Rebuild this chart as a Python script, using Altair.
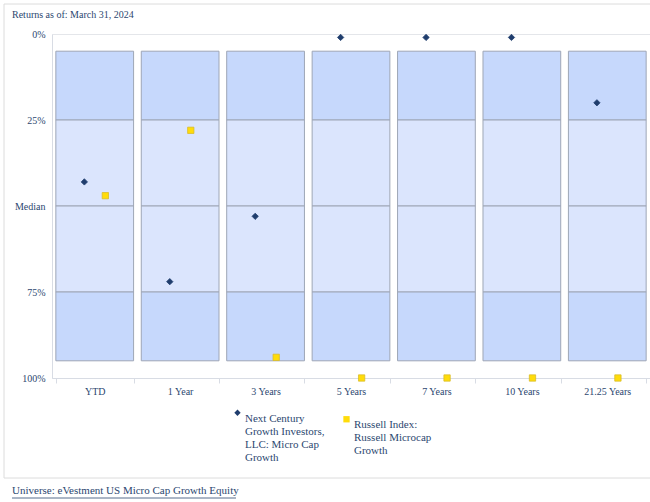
import altair as alt
import pandas as pd

categories = ["YTD", "1 Year", "3 Years", "5 Years", "7 Years", "10 Years", "21.25 Years"]
series_names = [
    "Next Century Growth Investors, LLC: Micro Cap Growth",
    "Russell Index: Russell Microcap Growth",
]
legend_lines = [
    ["Next Century", "Growth Investors,", "LLC: Micro Cap", "Growth"],
    ["Russell Index:", "Russell Microcap", "Growth"],
]
next_century_rank = [43, 72, 53, 1, 1, 1, 20]
russell_rank = [47, 28, 94, 100, 100, 100, 100]
band_edges = [5, 25, 50, 75, 95]
band_zones = ["outer", "inner", "inner", "outer"]
y_tick_values = [0, 25, 50, 75, 100]
y_tick_labels = ["0%", "25%", "Median", "75%", "100%"]
title_text = "Returns as of: March 31, 2024"
footer_text = "Universe: eVestment US Micro Cap Growth Equity"

NAVY = "#2c4770"
FONT = "Liberation Serif"

bar_rows = []
for c in categories:
    for i, z in enumerate(band_zones):
        bar_rows.append({"category": c, "lo": band_edges[i], "hi": band_edges[i + 1], "zone": z})
bars_df = pd.DataFrame(bar_rows)

pt_rows = []
for c, a, b in zip(categories, next_century_rank, russell_rank):
    pt_rows.append({"category": c, "series": series_names[0], "rank": a})
    pt_rows.append({"category": c, "series": series_names[1], "rank": b})
pts_df = pd.DataFrame(pt_rows)

y_expr = " : ".join(
    [f"datum.value == {v} ? '{l}'" for v, l in zip(y_tick_values, y_tick_labels)]
) + " : ''"
leg_expr = "datum.label == '%s' ? %s : %s" % (
    series_names[0],
    str(legend_lines[0]),
    str(legend_lines[1]),
)

xenc = alt.X(
    "category:N",
    sort=categories,
    title=None,
    scale=alt.Scale(paddingInner=0.09, paddingOuter=0.045),
    axis=alt.Axis(
        labelAngle=0,
        tickBand="extent",
        tickSize=5,
        tickColor="#d8dce4",
        domainColor="#d8dce4",
        labelFont=FONT,
        labelFontSize=10,
        labelColor=NAVY,
        labelPadding=3,
        grid=False,
    ),
)
yscale = alt.Scale(domain=[0, 100], reverse=True, nice=False, zero=False)
yaxis = alt.Axis(
    values=y_tick_values,
    labelExpr=y_expr,
    ticks=False,
    grid=False,
    domainColor="#d8dce4",
    labelFont=FONT,
    labelFontSize=10,
    labelColor=NAVY,
    labelPadding=7,
    title=None,
)

bars = alt.Chart(bars_df).mark_bar(stroke="#9ea6b6", strokeWidth=1).encode(
    x=xenc,
    y=alt.Y("lo:Q", scale=yscale, axis=yaxis),
    y2="hi:Q",
    fill=alt.Fill(
        "zone:N",
        scale=alt.Scale(domain=["outer", "inner"], range=["#c6d8fc", "#dbe5fd"]),
        legend=None,
    ),
)

legend = alt.Legend(
    orient="none",
    legendX=180,
    legendY=373,
    direction="horizontal",
    columns=2,
    title=None,
    labelExpr=leg_expr,
    labelBaseline="top",
    labelFont=FONT,
    labelFontSize=11,
    labelColor=NAVY,
    labelLimit=300,
    labelOffset=2,
    symbolSize=40,
    symbolStrokeWidth=0,
    columnPadding=16,
    padding=0,
)

shape_scale = alt.Scale(domain=series_names, range=["diamond", "square"])
color_scale = alt.Scale(domain=series_names, range=["#1f3d6d", "#ffdc0a"])


def point_layer(name, offset, stroke):
    return (
        alt.Chart(pts_df)
        .transform_filter(alt.datum.series == name)
        .mark_point(filled=True, opacity=1, size=40, clip=False, stroke=stroke, strokeWidth=0.8)
        .encode(
            x=xenc,
            xOffset=alt.value(offset),
            y=alt.Y("rank:Q", scale=yscale, axis=yaxis),
            shape=alt.Shape("series:N", scale=shape_scale, legend=legend),
            color=alt.Color("series:N", scale=color_scale, legend=legend),
        )
    )


pts_a = point_layer(series_names[0], 28.5, "#1f3d6d")
pts_b = point_layer(series_names[1], 49.5, "#d9bc2a")

one = alt.Data(values=[{"k": 1}])
frame = alt.Chart(one).mark_rect(fill=None, stroke="#dcdcdc", strokeWidth=1, clip=False).encode(
    x=alt.value(-48), x2=alt.value(620), y=alt.value(-30), y2=alt.value(444)
)
title = alt.Chart(one).mark_text(
    align="left", baseline="middle", font=FONT, fontSize=10, color=NAVY
).encode(x=alt.value(-40), y=alt.value(-19), text=alt.value(title_text))
footer = alt.Chart(one).mark_text(
    align="left", baseline="middle", font=FONT, fontSize=11, color=NAVY
).encode(x=alt.value(-40), y=alt.value(457), text=alt.value(footer_text))
underline = alt.Chart(one).mark_rule(color=NAVY, strokeWidth=0.8).encode(
    x=alt.value(-40), x2=alt.value(184), y=alt.value(464)
)

chart = (
    alt.layer(frame, bars, pts_a, pts_b, title, footer, underline)
    .properties(
        width=598,
        height=344,
        autosize=alt.AutoSizeParams(type="none"),
        padding={"left": 52, "top": 34, "right": 0, "bottom": 124},
        background="white",
    )
    .configure_view(stroke="#e4e6ea")
)

chart.save("out.html", embed_options={"renderer": "svg", "actions": False})
